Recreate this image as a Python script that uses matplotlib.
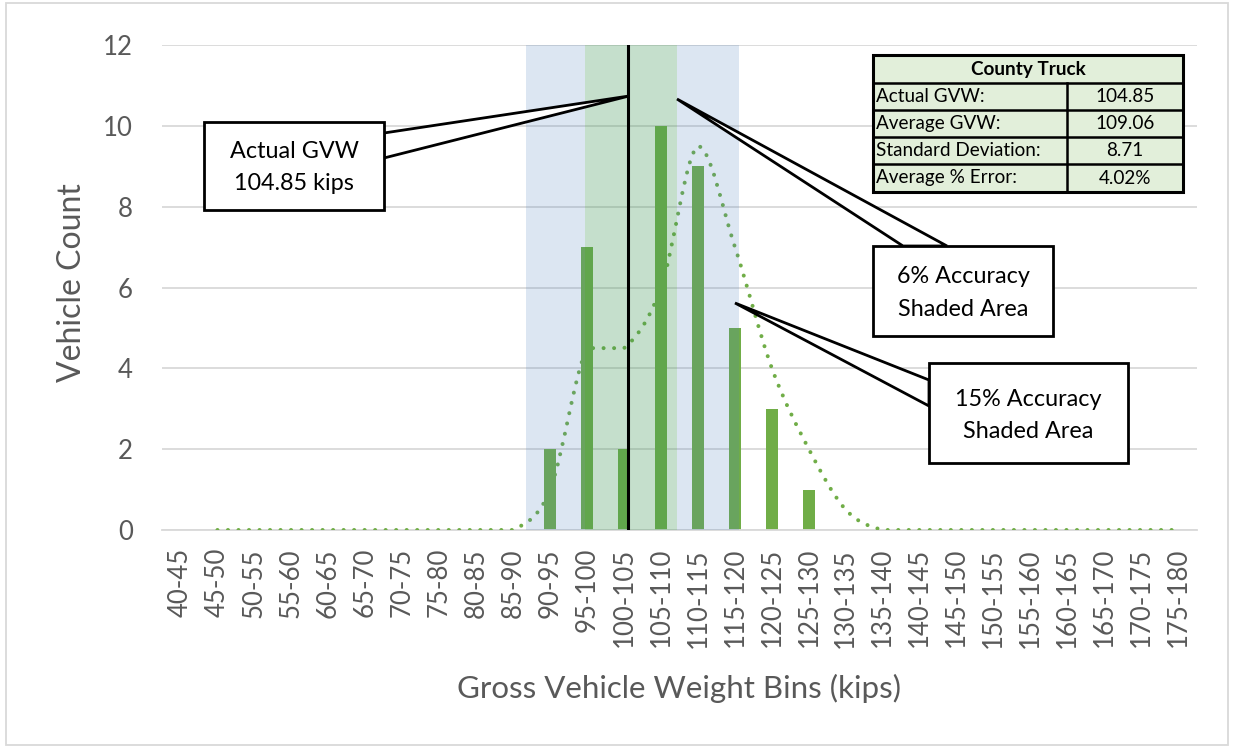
import matplotlib
matplotlib.use("Agg")
from matplotlib import pyplot as plt
from matplotlib.path import Path
from matplotlib.patches import PathPatch, Polygon, Rectangle
import numpy

plt.rcParams['font.family'] = ['Lato', 'DejaVu Sans']

# weight bins (kips) and counts
bins = ["40-45", "45-50", "50-55", "55-60", "60-65", "65-70", "70-75",
        "75-80", "80-85", "85-90", "90-95", "95-100", "100-105", "105-110",
        "110-115", "115-120", "120-125", "125-130", "130-135", "135-140",
        "140-145", "145-150", "150-155", "155-160", "160-165", "165-170",
        "170-175", "175-180"]
counts = [0, 0, 0, 0, 0, 0, 0, 0, 0, 0, 2, 7, 2, 10, 9, 5, 3, 1,
          0, 0, 0, 0, 0, 0, 0, 0, 0, 0]
# 2-per. moving average trend (starts at the 2nd bin)
trend = [0, 0, 0, 0, 0, 0, 0, 0, 0, 1, 4.5, 4.5, 6, 9.5, 7, 4, 2, 0.5,
         0, 0, 0, 0, 0, 0, 0, 0, 0]

# shaded areas and actual GVW, in category-axis units
band15 = (9.34, 15.11)
band6 = (10.93, 13.43)
actual_pos = 12.12

table_rows = [("Actual GVW:", "104.85"),
              ("Average GVW:", "109.06"),
              ("Standard Deviation:", "8.71"),
              ("Average % Error:", "4.02%")]

W, H = 1233, 747
GRAY = '#595959'
GREEN = '#70AD47'


def px(x, y):
    return (x / W, 1 - y / H)


fig = plt.figure(figsize=(W / 100, H / 100), dpi=100)
ax = fig.add_axes([162 / W, 1 - 530 / H, (1197 - 162) / W, (530 - 45) / H])

x = numpy.arange(len(bins))
ax.bar(x, counts, width=0.33, color=GREEN, zorder=2)

# smoothed trend line (bezier through the moving average points)
tx = x[1:].astype(float)
pts = numpy.column_stack([tx, trend])
verts = [pts[0]]
codes = [Path.MOVETO]
n = len(pts)
for i in range(n - 1):
    p0 = pts[max(i - 1, 0)]
    p1 = pts[i]
    p2 = pts[i + 1]
    p3 = pts[min(i + 2, n - 1)]
    c1 = p1 + (p2 - p0) / 6.0
    c2 = p2 - (p3 - p1) / 6.0
    lo, hi = min(p1[1], p2[1]), max(p1[1], p2[1])
    c1[1] = numpy.clip(c1[1], lo, hi)
    c2[1] = numpy.clip(c2[1], lo, hi)
    verts += [c1, c2, p2]
    codes += [Path.CURVE4] * 3
trend_patch = PathPatch(Path(verts, codes), fill=False, edgecolor=GREEN,
                        linewidth=2.9, linestyle=(0, (0.01, 2.6)),
                        capstyle='round', zorder=3)
ax.add_patch(trend_patch)

# accuracy shading
ax.axvspan(band15[0], band6[0], color='#5082BE', alpha=0.2, lw=0, zorder=4)
ax.axvspan(band6[1], band15[1], color='#5082BE', alpha=0.2, lw=0, zorder=4)
ax.axvspan(band6[0], band6[1], color='#419858', alpha=0.30, lw=0, zorder=4)

ax.axvline(actual_pos, color='black', lw=2.2, zorder=5)

ax.set_xlim(-0.5, len(bins) - 0.5)
ax.set_ylim(0, 12)
ax.set_yticks(range(0, 13, 2))
ax.set_xticks(x)
ax.set_xticklabels(bins, rotation=90)
ax.grid(axis='y', color='#d9d9d9', lw=1.3, zorder=0)
ax.set_axisbelow(True)
for s in ['top', 'right', 'left']:
    ax.spines[s].set_visible(False)
ax.spines['bottom'].set_color('#d9d9d9')
ax.spines['bottom'].set_linewidth(1.3)
ax.tick_params(axis='y', length=0, pad=21, labelsize=18.5, labelcolor=GRAY)
ax.tick_params(axis='x', length=0, pad=13, labelsize=18.5, labelcolor=GRAY)

fig.text(72 / W, 1 - 283 / H, "Vehicle Count", rotation=90, fontsize=23,
         color=GRAY, ha='center', va='center')
fig.text(679 / W, 1 - 688 / H, "Gross Vehicle Weight Bins (kips)",
         fontsize=22.5, color=GRAY, ha='center', va='center')


# callouts (box + wedge pointer), in pixel coordinates
def callout(box, base1, base2, tip, lines, centers):
    x0, y0, x1, y1 = box
    wedge = Polygon([px(*base1), px(*tip), px(*base2)], closed=True,
                    transform=fig.transFigure, facecolor='white',
                    edgecolor='black', lw=2, zorder=10)
    fig.add_artist(wedge)
    rect = Rectangle(px(x0, y1), (x1 - x0) / W, (y1 - y0) / H,
                     transform=fig.transFigure, facecolor='white',
                     edgecolor='black', lw=2, zorder=11)
    fig.add_artist(rect)
    for t, yc in zip(lines, centers):
        fig.text((x0 + x1) / 2 / W, 1 - yc / H, t, fontsize=16.8,
                 ha='center', va='center', color='black', zorder=12)


callout((204, 122, 384, 210), (384, 133), (384, 158), (629, 96),
        ["Actual GVW", "104.85 kips"], [152, 184])
callout((873, 246, 1053, 336), (903, 246), (947, 246), (677, 99),
        ["6% Accuracy", "Shaded Area"], [277, 309])
callout((929, 363, 1128, 463), (929, 380), (929, 406), (735, 303),
        ["15% Accuracy", "Shaded Area"], [400, 432])

# summary table
tx0, tx1, tmid = 873, 1183, 1067
ty = [55, 83, 110, 137, 164, 192]
fig.add_artist(Rectangle(px(tx0, ty[-1]), (tx1 - tx0) / W, (ty[-1] - ty[0]) / H,
                         transform=fig.transFigure, facecolor='#E2EFDA',
                         edgecolor='black', lw=2.2, zorder=10))
for yy in ty[1:-1]:
    fig.add_artist(plt.Line2D([tx0 / W, tx1 / W], [1 - yy / H] * 2,
                              transform=fig.transFigure, color='black',
                              lw=1.8, zorder=11))
fig.add_artist(plt.Line2D([tmid / W] * 2, [1 - ty[1] / H, 1 - ty[-1] / H],
                          transform=fig.transFigure, color='black',
                          lw=1.8, zorder=11))
fig.text((tx0 + tx1) / 2 / W, 1 - (ty[0] + ty[1]) / 2 / H, "County Truck",
         fontsize=13.6, fontweight='bold', ha='center', va='center', zorder=12)
for i, (label, val) in enumerate(table_rows):
    yc = 1 - (ty[i + 1] + ty[i + 2]) / 2 / H
    fig.text((tx0 + 3) / W, yc, label, fontsize=13.6, ha='left', va='center',
             zorder=12)
    fig.text((tmid + tx1) / 2 / W, yc, val, fontsize=13.6, ha='center',
             va='center', zorder=12)

# chart border
fig.add_artist(Rectangle(px(6, 745), (1228 - 6) / W, (745 - 3) / H,
                         transform=fig.transFigure, fill=False,
                         edgecolor='#d9d9d9', lw=1.3))

plt.savefig("out.png", dpi=100)
